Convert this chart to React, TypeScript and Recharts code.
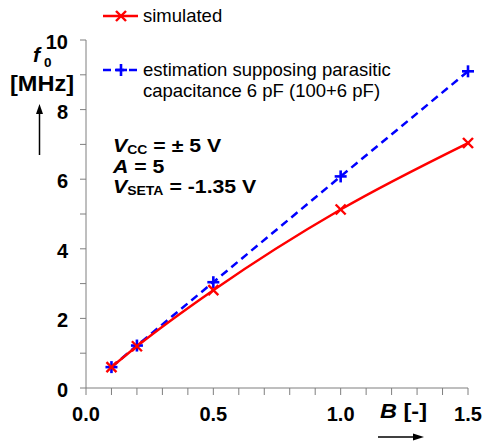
import React from "react";
import { LineChart, Line, XAxis, YAxis } from "recharts";

const B_VALUES = [0.1, 0.2, 0.5, 1.0, 1.5];
const SIMULATED = [0.6, 1.2, 2.81, 5.13, 7.04];
const ESTIMATED = [0.6, 1.22, 3.04, 6.08, 9.1];

const X_TICKS = [0, 0.1, 0.2, 0.3, 0.4, 0.5, 0.6, 0.7, 0.8, 0.9, 1.0, 1.1, 1.2, 1.3, 1.4, 1.5];
const X_LABELED = [0, 0.5, 1.0, 1.5];
const Y_TICKS = [0, 1, 2, 3, 4, 5, 6, 7, 8, 9, 10];
const Y_LABELED = [0, 2, 4, 6, 8, 10];

const FONT = "'Liberation Sans', Arial, sans-serif";
const RED = "#ff0000";
const BLUE = "#0000ff";

const data = B_VALUES.map((b, i) => ({ b, sim: SIMULATED[i], est: ESTIMATED[i] }));

const CrossDot = (props: any) => {
  const { cx, cy } = props;
  if (cx == null || cy == null) return null;
  const s = 5;
  return (
    <g stroke={RED} strokeWidth={2.4}>
      <line x1={cx - s} y1={cy - s} x2={cx + s} y2={cy + s} />
      <line x1={cx - s} y1={cy + s} x2={cx + s} y2={cy - s} />
    </g>
  );
};

const PlusDot = (props: any) => {
  const { cx, cy } = props;
  if (cx == null || cy == null) return null;
  const s = 6;
  return (
    <g stroke={BLUE} strokeWidth={2.6}>
      <line x1={cx - s} y1={cy} x2={cx + s} y2={cy} />
      <line x1={cx} y1={cy - s} x2={cx} y2={cy + s} />
    </g>
  );
};

const XTick = (props: any) => {
  const { x, payload } = props;
  const v = payload.value;
  if (!X_LABELED.some((l) => Math.abs(l - v) < 1e-6)) return null;
  return (
    <text x={x} y={421} textAnchor="middle" fontFamily={FONT} fontWeight={700} fontSize={20} fill="#000">
      {v.toFixed(1)}
    </text>
  );
};

const YTick = (props: any) => {
  const { y, payload } = props;
  const v = payload.value;
  if (!Y_LABELED.includes(v)) return null;
  return (
    <text x={68} y={y + 9} textAnchor="end" fontFamily={FONT} fontWeight={700} fontSize={20} fill="#000">
      {v}
    </text>
  );
};

export default function App() {
  return (
    <div style={{ position: "absolute", left: 0, top: 0, width: 485, height: 444, background: "#fff" }}>
      <LineChart width={485} height={444} data={data} margin={{ top: 40, right: 17, bottom: 0, left: 0 }}>
        <XAxis
          dataKey="b"
          type="number"
          domain={[0, 1.5]}
          ticks={X_TICKS}
          interval={0}
          height={56}
          tickSize={7}
          stroke="#7f7f7f"
          tick={<XTick />}
        />
        <YAxis
          type="number"
          domain={[0, 10]}
          ticks={Y_TICKS}
          interval={0}
          width={86}
          tickSize={6}
          stroke="#7f7f7f"
          tick={<YTick />}
        />
        <Line
          dataKey="est"
          type="linear"
          stroke={BLUE}
          strokeWidth={2.5}
          strokeDasharray="8 5"
          dot={<PlusDot />}
          isAnimationActive={false}
        />
        <Line
          dataKey="sim"
          type="monotone"
          stroke={RED}
          strokeWidth={2.5}
          dot={<CrossDot />}
          isAnimationActive={false}
        />
      </LineChart>
      <svg
        width={485}
        height={444}
        style={{ position: "absolute", left: 0, top: 0, pointerEvents: "none" }}
        fontFamily={FONT}
      >
        {/* legend */}
        <line x1={103} y1={16} x2={138} y2={16} stroke={RED} strokeWidth={2.5} />
        <CrossDot cx={121} cy={16} />
        <text x={143} y={22} fontSize={18.5}>simulated</text>
        <line x1={103} y1={70} x2={140} y2={70} stroke={BLUE} strokeWidth={2.5} strokeDasharray="8 5" />
        <PlusDot cx={121} cy={70} />
        <text x={143} y={76} fontSize={18.5}>estimation supposing parasitic</text>
        <text x={143} y={97} fontSize={18.5}>capacitance 6 pF (100+6 pF)</text>

        {/* y axis label */}
        <text x={33} y={62} fontSize={21} fontWeight={700} fontStyle="italic">f</text>
        <text x={44} y={67} fontSize={13.5} fontWeight={700}>0</text>
        <g transform="translate(10,0) scale(1.07,1)">
          <text x={0} y={91} fontSize={22} fontWeight={700}>[MHz]</text>
        </g>
        <line x1={39.5} y1={155} x2={39.5} y2={112} stroke="#000" strokeWidth={1.5} />
        <polygon points="39.5,104 36,114 43,114" fill="#000" />

        {/* annotations */}
        <g transform="translate(113,0) scale(1.12,1)" fontSize={19} fontWeight={700}>
          <text x={0} y={152}>
            <tspan fontStyle="italic">V</tspan>
            <tspan fontSize={12.5} dy={2}>CC</tspan>
            <tspan dy={-2}> = ± 5 V</tspan>
          </text>
          <text x={0} y={173}>
            <tspan fontStyle="italic">A</tspan>
            <tspan> = 5</tspan>
          </text>
          <text x={0} y={193}>
            <tspan fontStyle="italic">V</tspan>
            <tspan fontSize={12.5} dy={2}>SETA</tspan>
            <tspan dy={-2}> = -1.35 V</tspan>
          </text>
        </g>

        {/* x axis label */}
        <g transform="translate(380,0) scale(1.12,1)">
          <text x={0} y={418} fontSize={21} fontWeight={700}>
            <tspan fontStyle="italic">B</tspan>
            <tspan> [-]</tspan>
          </text>
        </g>
        <line x1={378} y1={437} x2={415} y2={437} stroke="#000" strokeWidth={1.5} />
        <polygon points="424,437 413,433.5 413,440.5" fill="#000" />
      </svg>
    </div>
  );
}
